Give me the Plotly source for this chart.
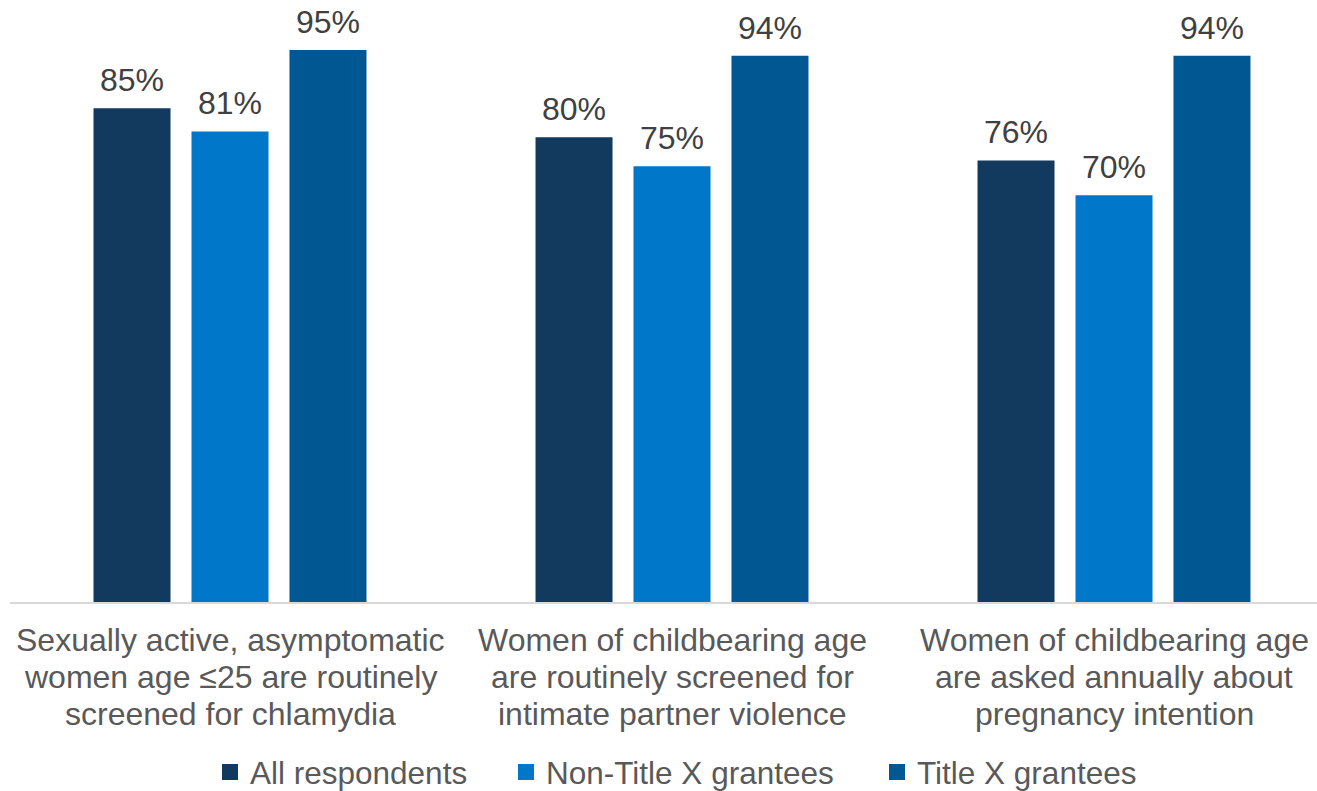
import plotly.graph_objects as go

categories = [
    "Sexually active, asymptomatic<br>women age ≤25 are routinely<br>screened for chlamydia",
    "Women of childbearing age<br>are routinely screened for<br>intimate partner violence",
    "Women of childbearing age<br>are asked annually about<br>pregnancy intention",
]
series_names = ["All respondents", "Non-Title X grantees", "Title X grantees"]
all_respondents = [85, 80, 76]
non_title_x = [81, 75, 70]
title_x = [95, 94, 94]
series_values = [all_respondents, non_title_x, title_x]

colors = ["#123A5E", "#0077C8", "#005792"]
FONT = "Liberation Sans, Arial, sans-serif"
W, H = 1317, 791

fig = go.Figure()

for name, vals, col in zip(series_names, series_values, colors):
    fig.add_trace(go.Bar(
        x=categories, y=vals, name=name, marker=dict(color=col, line=dict(width=0)),
        showlegend=False, hoverinfo="skip",
    ))

# Value labels above each bar, offset to the bar's slot inside the group
slot_px = 98
for i, vals in enumerate(series_values):
    for cat, v in zip(categories, vals):
        fig.add_annotation(
            x=cat, y=v, text=f"{v}%", showarrow=False,
            xref="x", yref="y", xanchor="center", yanchor="middle",
            xshift=(i - 1) * slot_px, yshift=28,
            font=dict(family=FONT, size=32, color="#404040"),
        )

# Category labels, one line at a time for tighter line spacing
line_step = 37
first_line = 38
for cat in categories:
    for k, line in enumerate(cat.split("<br>")):
        fig.add_annotation(
            x=cat, y=0, text=line, showarrow=False,
            xref="x", yref="y", xanchor="center", yanchor="middle",
            yshift=-(first_line + k * line_step),
            font=dict(family=FONT, size=32, color="#595959"),
        )

# Legend entries: one legend per series so each can be placed independently
legend_ids = ["legend", "legend2", "legend3"]
legend_x = [210, 506, 877]
for name, col, lid in zip(series_names, colors, legend_ids):
    fig.add_trace(go.Scatter(
        x=[None], y=[None], mode="markers", name=name,
        marker=dict(symbol="square", size=16, color=col),
        legend=lid, showlegend=True,
    ))

legend_common = dict(
    orientation="h", xref="container", yref="container",
    yanchor="middle", y=1 - 772 / H, xanchor="left",
    font=dict(family=FONT, size=31.5, color="#595959"),
    bgcolor="rgba(0,0,0,0)", borderwidth=0, itemsizing="trace",
)
layout_legends = {}
for lid, lx in zip(legend_ids, legend_x):
    layout_legends[lid] = dict(legend_common, x=lx / W)

plot_left, plot_right = 10, 1317
px_per_cat = 442
first_center = 230
x_min = -(first_center - plot_left) / px_per_cat
x_max = x_min + (plot_right - plot_left) / px_per_cat

fig.update_layout(
    width=W, height=H,
    margin=dict(l=plot_left, r=W - plot_right, t=21, b=H - 602),
    paper_bgcolor="white", plot_bgcolor="white",
    barmode="group", bargap=0.335, bargroupgap=0.214,
    font=dict(family=FONT, color="#595959"),
    xaxis=dict(
        type="category", range=[x_min, x_max], showgrid=False, zeroline=False,
        showline=True, linecolor="#D9D9D9", linewidth=2, ticks="",
        showticklabels=False,
    ),
    yaxis=dict(range=[0, 100], visible=False, showgrid=False, zeroline=False),
    **layout_legends,
)

fig.write_html("out.html")
